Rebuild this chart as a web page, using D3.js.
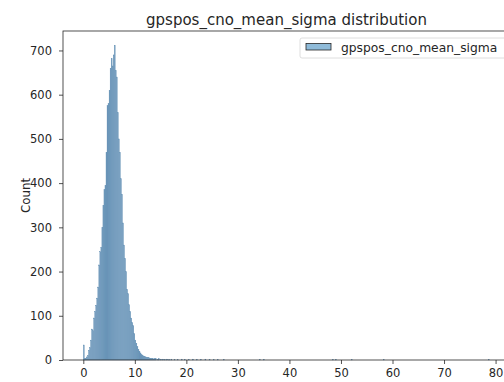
<!DOCTYPE html>
<html>
<head>
<meta charset="utf-8">
<script src="https://cdn.jsdelivr.net/npm/d3@7"></script>
<style>
body { margin: 0; background: #fff; }
text { font-family: "DejaVu Sans", sans-serif; fill: #262626; }
</style>
</head>
<body>
<svg width="504" height="382"></svg>
<script>
// histogram of gpspos_cno_mean_sigma, bins of 0.2 starting at 0
const BIN_WIDTH = 0.2;
const mainCounts = [
	34, 3, 4, 7, 10, 22, 28, 45, 70, 66,
	95, 110, 124, 140, 165, 215, 245, 255, 300, 350,
	385, 395, 470, 575, 580, 610, 660, 682, 665, 690,
	712, 655, 640, 560, 500, 470, 410, 375, 310, 260,
	230, 200, 160, 150, 125, 110, 95, 85, 78, 60,
	45, 38, 30, 24, 20, 16, 12, 11, 9, 8,
	7, 6, 6, 5, 4
];
// sparse long tail: [bin start, count]
const tailBins = [
	[13.0, 4], [13.2, 3], [13.4, 4], [13.6, 2], [13.8, 3], [14.0, 3], [14.4, 2],
	[14.6, 3], [15.0, 2], [15.4, 2], [15.8, 1], [16.2, 2], [16.6, 1], [17.0, 2],
	[17.6, 1], [18.2, 1], [19.0, 2], [19.6, 1], [20.4, 1], [21.2, 2], [22.0, 1],
	[22.8, 1], [23.6, 2], [24.4, 1], [25.2, 1], [26.0, 1], [27.2, 1], [34.2, 1],
	[35.0, 1], [48.4, 1], [49.0, 1], [52.0, 1], [58.2, 1], [78.6, 1]
];
const xTicks = [0, 10, 20, 30, 40, 50, 60, 70, 80];
const yTicks = [0, 100, 200, 300, 400, 500, 600, 700];
const seriesName = "gpspos_cno_mean_sigma";
const titleText = "gpspos_cno_mean_sigma distribution";

const bins = mainCounts.map((c, i) => ({ x0: i * BIN_WIDTH, count: c }))
	.concat(tailBins.map(d => ({ x0: d[0], count: d[1] })));

var svg = d3.select("svg");
const plotLeft = 63, plotTop = 31, plotRight = 510, plotBottom = 360;

var x = d3.scaleLinear().domain([-3.94, 82.8]).range([plotLeft, plotRight]);
var y = d3.scaleLinear().domain([0, 744]).range([plotBottom, plotTop]);

// bars
svg.append("g")
	.selectAll("rect")
	.data(bins)
	.enter().append("rect")
	.attr("x", d => x(d.x0))
	.attr("width", d => x(d.x0 + BIN_WIDTH) - x(d.x0))
	.attr("y", d => y(d.count))
	.attr("height", d => y(0) - y(d.count))
	.attr("fill", "#6a95b8")
	.attr("stroke", "#6a95b8")
	.attr("stroke-width", 0.3);

// axes
var xAxis = svg.append("g")
	.attr("transform", "translate(0," + plotBottom + ")")
	.call(d3.axisBottom(x).tickValues(xTicks).tickSize(4).tickPadding(5));
var yAxis = svg.append("g")
	.attr("transform", "translate(" + plotLeft + ",0)")
	.call(d3.axisLeft(y).tickValues(yTicks).tickSize(4).tickPadding(7));

[xAxis, yAxis].forEach(function (a) {
	a.selectAll("text").style("font-size", "11.5px").style("font-family", "DejaVu Sans").attr("fill", "#262626");
	a.selectAll("line").attr("stroke", "#262626").attr("stroke-width", 0.8);
	a.select(".domain").remove();
});

// frame
svg.append("rect")
	.attr("x", plotLeft).attr("y", plotTop)
	.attr("width", plotRight - plotLeft).attr("height", plotBottom - plotTop)
	.attr("fill", "none")
	.attr("stroke", "#262626")
	.attr("stroke-width", 0.8);

svg.append("text")
	.attr("x", (plotLeft + plotRight) / 2)
	.attr("y", 25)
	.attr("text-anchor", "middle")
	.style("font-size", "15px")
	.text(titleText);

svg.append("text")
	.attr("transform", "translate(29.5," + ((plotTop + plotBottom) / 2) + ") rotate(-90)")
	.attr("text-anchor", "middle")
	.style("font-size", "11.8px")
	.text("Count");

// legend
var legend = svg.append("g");
legend.append("rect")
	.attr("x", 300).attr("y", 38)
	.attr("width", 220).attr("height", 20)
	.attr("rx", 2)
	.attr("fill", "#fff").attr("fill-opacity", 0.8)
	.attr("stroke", "#d6d6d6").attr("stroke-width", 0.8);
legend.append("rect")
	.attr("x", 306).attr("y", 43.5)
	.attr("width", 25).attr("height", 6.5)
	.attr("fill", "#8fbbd9")
	.attr("stroke", "#262626").attr("stroke-width", 0.8);
legend.append("text")
	.attr("x", 341).attr("y", 52)
	.style("font-size", "12.3px")
	.text(seriesName);
</script>
</body>
</html>
